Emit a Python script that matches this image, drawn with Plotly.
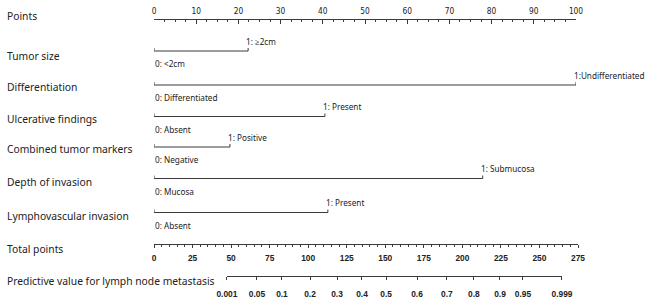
import plotly.graph_objects as go

W, H = 650, 304

# ---------------- data ----------------
variables = ["Tumor size", "Differentiation", "Ulcerative findings",
             "Combined tumor markers", "Depth of invasion", "Lymphovascular invasion"]
level0_labels = ["0: <2cm", "0: Differentiated", "0: Absent", "0: Negative", "0: Mucosa", "0: Absent"]
level1_labels = ["1: \u22652cm", "1:Undifferentiated", "1: Present", "1: Positive", "1: Submucosa", "1: Present"]
level1_points = [22.3, 100, 40.5, 18.0, 77.9, 41.2]

points_max = 100
total_points_max = 275
prob_labels = ["0.001", "0.05", "0.1", "0.2", "0.3", "0.4", "0.5", "0.6",
               "0.7", "0.8", "0.9", "0.95", "0.999"]
prob_total_points = [47.3, 66.8, 83.0, 101.2, 118.7, 134.9, 150.5, 170.6,
                     190.0, 207.5, 224.4, 239.3, 264.6]

# ---------------- layout constants (pixels) ----------------
x_left_px = 154
x_right_pts_px = 576
x_right_tot_px = 578
row_line_y = [51, 85, 116.5, 147, 178.5, 212.5]
row_label_y = [55.5, 86.5, 118.5, 148.5, 182, 215.5]
points_line_y, points_label_y = 19, 16
total_line_y, total_label_y = 243.5, 249
prob_line_y, prob_label_y = 275.5, 281

LINE = "#3a3a3a"
TXT = "#222222"
LABEL_FONT = dict(family="Noto Sans, Open Sans, sans-serif", size=10.3, color=TXT)
VAL_FONT = dict(family="Noto Sans, Open Sans, sans-serif", size=8.2, color=TXT)
TICK_FONT = dict(family="Liberation Sans Narrow, DejaVu Sans Condensed, Liberation Sans, sans-serif", size=8.3, color=TXT)
BOLD_TICK_FONT = dict(family="Liberation Sans, Arial, sans-serif", size=8.4, color=TXT, weight="bold")

tot_scale = (x_right_tot_px - x_left_px) / total_points_max
prob_dom = [(x_left_px + prob_total_points[0] * tot_scale) / W,
            (x_left_px + prob_total_points[-1] * tot_scale) / W]

fig = go.Figure()

# variable rows
for v, val, ly in zip(variables, level1_points, row_line_y):
    fig.add_trace(go.Scatter(
        x=[0, 0, val, val], y=[ly - 3, ly, ly, ly - 3],
        mode="lines", line=dict(color=LINE, width=1),
        xaxis="x", yaxis="y", showlegend=False, hoverinfo="skip", cliponaxis=False))

# dummy traces to instantiate the other axes
fig.add_trace(go.Scatter(x=[0, total_points_max], y=[None, None], xaxis="x2", yaxis="y",
                         mode="lines", showlegend=False, hoverinfo="skip"))
fig.add_trace(go.Scatter(x=[prob_total_points[0], prob_total_points[-1]], y=[None, None],
                         xaxis="x3", yaxis="y", mode="lines", showlegend=False, hoverinfo="skip"))

annotations = []
# left labels
left_names = ["Points"] + variables + ["Total points", "Predictive value for lymph node metastasis"]
left_ys = [points_label_y] + row_label_y + [total_label_y, prob_label_y]
for name, y in zip(left_names, left_ys):
    annotations.append(dict(text=name, xref="paper", x=5 / W, yref="y", y=y,
                            xanchor="left", yanchor="middle", showarrow=False, font=LABEL_FONT))
# level labels
for l0, l1, val, ly in zip(level0_labels, level1_labels, level1_points, row_line_y):
    annotations.append(dict(text=l0, xref="x", x=0, yref="y", y=ly + 12.5, xanchor="left",
                            yanchor="middle", showarrow=False, font=VAL_FONT, xshift=-1))
    annotations.append(dict(text=l1, xref="x", x=val, yref="y", y=ly - 10, xanchor="left",
                            yanchor="middle", showarrow=False, font=VAL_FONT, xshift=-4))

fig.update_layout(
    width=W, height=H, margin=dict(l=0, r=0, t=0, b=0, pad=0, autoexpand=False),
    paper_bgcolor="white", plot_bgcolor="rgba(0,0,0,0)",
    showlegend=False,
    annotations=annotations,
    yaxis=dict(range=[H, 0], domain=[0, 1], visible=False, fixedrange=True, automargin=False),
    xaxis=dict(domain=[x_left_px / W, x_right_pts_px / W], range=[0, points_max],
               anchor="free", position=1 - points_line_y / H, side="top", automargin=False,
               showline=True, linecolor=LINE, linewidth=1, showgrid=False, zeroline=False,
               ticks="inside", ticklen=4, tickcolor=LINE, tickwidth=1,
               tick0=0, dtick=10, tickfont=TICK_FONT, ticklabelstandoff=2,
               minor=dict(dtick=2.5, ticks="inside", ticklen=2, tickcolor=LINE, showgrid=False)),
    xaxis2=dict(domain=[x_left_px / W, x_right_tot_px / W], range=[0, total_points_max],
                anchor="free", position=1 - total_line_y / H, side="bottom", automargin=False,
                showline=True, linecolor=LINE, linewidth=1, showgrid=False, zeroline=False,
                ticks="outside", ticklen=3, tickcolor=LINE, tickwidth=1,
                tick0=0, dtick=25, tickfont=BOLD_TICK_FONT, ticklabelstandoff=3,
                minor=dict(dtick=5, ticks="outside", ticklen=2, tickcolor=LINE, showgrid=False)),
    xaxis3=dict(domain=prob_dom, range=[prob_total_points[0], prob_total_points[-1]],
                anchor="free", position=1 - prob_line_y / H, side="bottom", automargin=False,
                showline=True, linecolor=LINE, linewidth=1, showgrid=False, zeroline=False,
                ticks="outside", ticklen=3, tickcolor=LINE, tickwidth=1,
                tickmode="array", tickvals=prob_total_points, ticktext=prob_labels,
                tickfont=BOLD_TICK_FONT, ticklabelstandoff=7),
)

fig.write_html(
    "out.html",
    config={"displayModeBar": False, "staticPlot": True},
    post_script="document.body.style.margin='0';document.body.style.overflow='hidden';",
)
